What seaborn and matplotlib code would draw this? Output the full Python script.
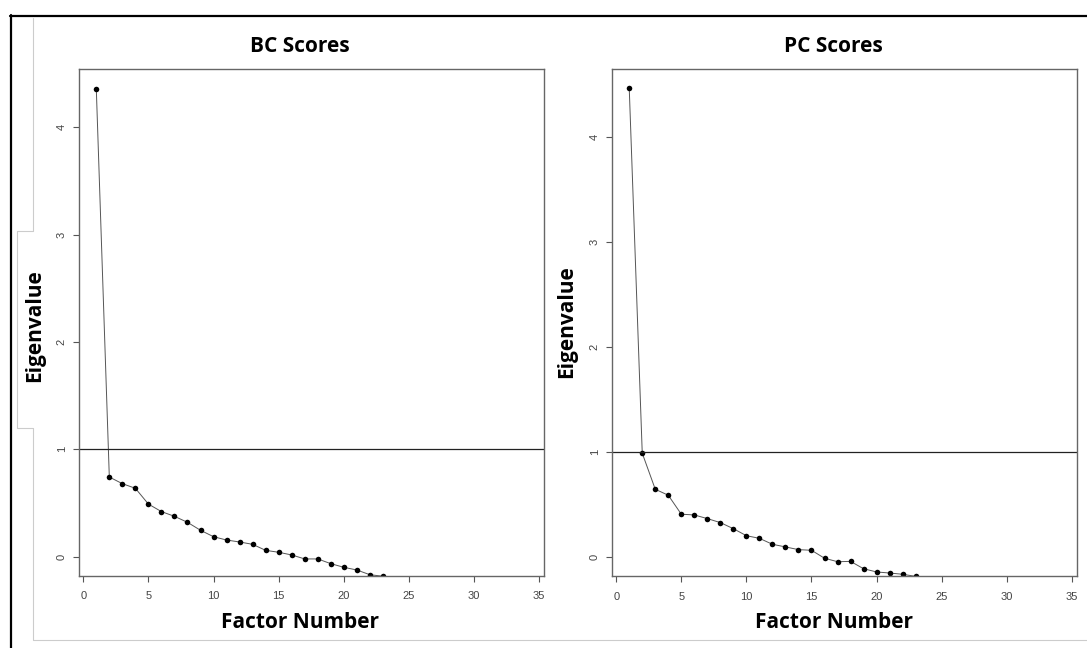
import matplotlib
matplotlib.use("Agg")
import matplotlib.pyplot as plt
import seaborn as sns
from matplotlib.lines import Line2D

# scree values
factors = list(range(1, 24))
bc_eigen = [4.36, 0.742, 0.68, 0.637, 0.49, 0.42, 0.376, 0.32, 0.246, 0.186,
            0.155, 0.137, 0.115, 0.059, 0.041, 0.016, -0.021, -0.021, -0.065,
            -0.099, -0.124, -0.168, -0.182]
pc_eigen = [4.47, 0.987, 0.643, 0.586, 0.405, 0.398, 0.363, 0.325, 0.267, 0.2,
            0.175, 0.118, 0.093, 0.067, 0.061, -0.015, -0.048, -0.045, -0.115,
            -0.146, -0.156, -0.168, -0.188]
panel_titles = ["BC Scores", "PC Scores"]
x_ticks = [0, 5, 10, 15, 20, 25, 30, 35]
y_ticks = [0, 1, 2, 3, 4]

sns.set_style("white")
plt.rcParams["font.family"] = ["Liberation Sans", "DejaVu Sans"]

fig = plt.figure(figsize=(10.87, 6.48), dpi=100)
ax_bc = fig.add_axes([0.0730, 0.1116, 0.4275, 0.7815])
ax_pc = fig.add_axes([0.5633, 0.1107, 0.4272, 0.7824])

panels = [(ax_bc, bc_eigen, (-0.177, 4.54)), (ax_pc, pc_eigen, (-0.187, 4.65))]
for ax, vals, ylim in panels:
    sns.lineplot(x=factors, y=vals, ax=ax, color="#555555", linewidth=0.7,
                 marker="o", markersize=4, markerfacecolor="black",
                 markeredgewidth=0)
    ax.axhline(1, color="#222222", linewidth=0.9)
    ax.set_xlim(-0.3, 35.37)
    ax.set_ylim(*ylim)
    ax.set_xticks(x_ticks)
    ax.set_yticks(y_ticks)
    ax.tick_params(axis="both", which="both", direction="out", length=4,
                   width=0.8, color="#555555", labelsize=8, labelcolor="#444444",
                   bottom=True, left=True)
    ax.tick_params(axis="x", pad=7)
    ax.tick_params(axis="y", pad=5)
    for lab in ax.get_yticklabels():
        lab.set_rotation(90)
        lab.set_va("center")
    for sp in ax.spines.values():
        sp.set_color("#666666")
        sp.set_linewidth(1.0)

bold = dict(family=["Open Sans", "DejaVu Sans"], fontweight="bold",
            fontsize=15, color="black", ha="center", va="center")
fig.text(0.276, 0.928, panel_titles[0], **bold)
fig.text(0.767, 0.928, panel_titles[1], **bold)
fig.text(0.276, 0.0386, "Factor Number", **bold)
fig.text(0.767, 0.0386, "Factor Number", **bold)
fig.text(0.0317, 0.498, "Eigenvalue", rotation=90, **bold)
fig.text(0.5216, 0.503, "Eigenvalue", rotation=90, **bold)

# outer black border (top and left) and light grey frame of the pasted image
W, H = 1087, 648
def fx(px):
    return px / W
def fy(py):
    return 1 - py / H

fig.add_artist(Line2D([fx(10), 1], [fy(15.7), fy(15.7)], color="black", linewidth=1.6))
fig.add_artist(Line2D([fx(11), fx(11)], [fy(15), 0], color="black", linewidth=1.6))
grey_x = [fx(33), fx(33), fx(17), fx(17), fx(33), fx(33), 1]
grey_y = [fy(18), fy(231), fy(231), fy(428), fy(428), fy(640), fy(640)]
fig.add_artist(Line2D(grey_x, grey_y, color="#cccccc", linewidth=0.8))

fig.savefig("out.png", dpi=100)
